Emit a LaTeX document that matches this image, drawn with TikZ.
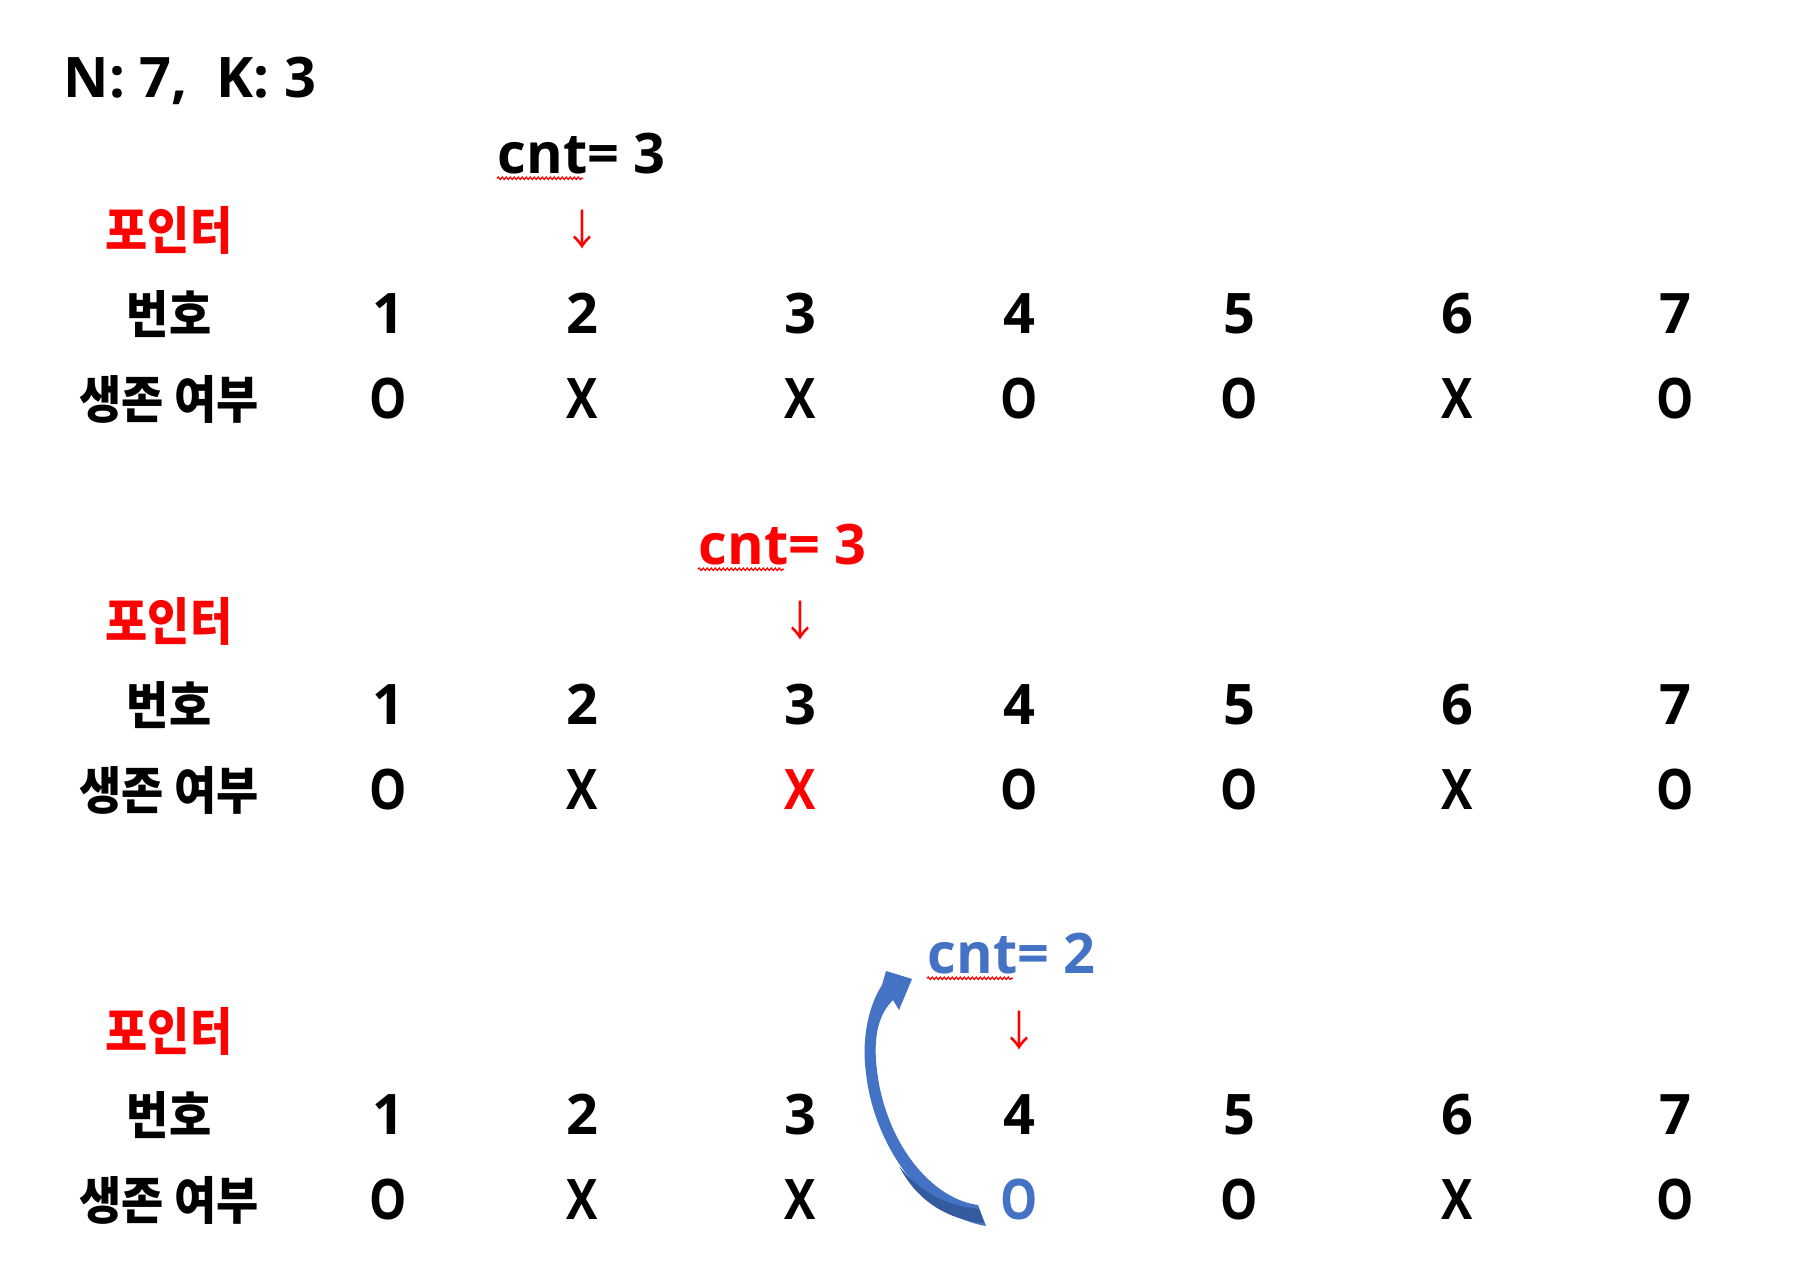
\documentclass[tikz,border=0pt]{standalone}
\usepackage{fontspec}
\setmainfont{Open Sans}
\newfontfamily\kor{Noto Sans CJK KR}[FakeStretch=0.9]
\newfontfamily\narrow{Open Sans}[FakeStretch=0.84]
\usepackage{tikz}
\usetikzlibrary{decorations.pathmorphing}
\definecolor{ptred}{RGB}{255,0,0}
\definecolor{cntblue}{RGB}{68,114,196}
\definecolor{arrdark}{RGB}{52,90,160}

\begin{document}
\begin{tikzpicture}[
  txt/.style={inner sep=0pt, anchor=base, font=\fontsize{15.9}{19}\selectfont\bfseries},
  oxcell/.style={txt, font=\narrow\fontsize{15.9}{19}\selectfont\bfseries},
  kor/.style={txt, font=\kor\fontsize{14.5}{17}\selectfont\bfseries},
  cnt/.style={txt, anchor=base west},
  ptr/.style={inner sep=0pt, anchor=base, text=ptred, font=\kor\fontsize{12}{14}\selectfont},
  squig/.style={ptred, line width=0.35pt, decorate, decoration={snake, amplitude=0.12mm, segment length=0.4mm}}]
  \useasboundingbox (0,0) rectangle (17.95,-12.81);
  \node[txt, anchor=base west] (nk) at (0.63,-0.97) {N: 7,~~K: 3};
  % first pass
  \node[cnt] (cnt1) at (4.97,-1.73) {cnt= 3};
  \draw[squig] ([yshift=-1.5pt]cnt1.base west) -- ++(0.86,0);
  \node[ptr] (p1) at (5.82,-2.45) {↓};
  \node[kor, text=ptred] (ptr1) at (1.69,-2.49) {포인터};
  \node[kor] (no1) at (1.69,-3.33) {번호};
  \node[kor] (alive1) at (1.69,-4.18) {생존 여부};
  \foreach \i/\xx/\s in {1/3.88/O, 2/5.82/X, 3/8.00/X, 4/10.19/O, 5/12.39/O, 6/14.57/X, 7/16.75/O} {
    \node[txt] (n1\i) at (\xx,-3.33) {\i};
    \node[oxcell] (s1\i) at (\xx,-4.18) {\s};
  }
  % second pass
  \node[cnt, text=ptred] (cnt2) at (6.98,-5.64) {cnt= 3};
  \draw[squig] ([yshift=-1.5pt]cnt2.base west) -- ++(0.86,0);
  \node[ptr] (p2) at (8.00,-6.36) {↓};
  \node[kor, text=ptred] (ptr2) at (1.69,-6.40) {포인터};
  \node[kor] (no2) at (1.69,-7.24) {번호};
  \node[kor] (alive2) at (1.69,-8.09) {생존 여부};
  \foreach \i/\xx/\s/\c in {1/3.88/O/black, 2/5.82/X/black, 3/8.00/X/ptred, 4/10.19/O/black, 5/12.39/O/black, 6/14.57/X/black, 7/16.75/O/black} {
    \node[txt] (n2\i) at (\xx,-7.24) {\i};
    \node[oxcell, text=\c] (s2\i) at (\xx,-8.09) {\s};
  }
  % third pass
  \node[cnt, text=cntblue] (cnt3) at (9.27,-9.73) {cnt= 2};
  \draw[squig] ([yshift=-1.5pt]cnt3.base west) -- ++(0.86,0);
  \node[ptr] (p3) at (10.19,-10.46) {↓};
  \node[kor, text=ptred] (ptr3) at (1.69,-10.50) {포인터};
  \node[kor] (no3) at (1.69,-11.34) {번호};
  \node[kor] (alive3) at (1.69,-12.19) {생존 여부};
  \foreach \i/\xx/\s/\c in {1/3.88/O/black, 2/5.82/X/black, 3/8.00/X/black, 4/10.19/O/cntblue, 5/12.39/O/black, 6/14.57/X/black, 7/16.75/O/black} {
    \node[txt] (n3\i) at (\xx,-11.34) {\i};
    \node[oxcell, text=\c] (s3\i) at (\xx,-12.19) {\s};
  }
  % curved arrow back to cnt
  \fill[cntblue] (9.78,-12.05) .. controls (9.27,-11.98) and (8.81,-11.35) .. (8.76,-10.60)
    .. controls (8.74,-10.30) and (8.81,-10.12) .. (8.93,-10.00)
    -- (8.99,-10.10) -- (9.12,-9.79) -- (8.86,-9.71) -- (8.82,-9.85)
    .. controls (8.66,-10.10) and (8.62,-10.45) .. (8.66,-10.73)
    .. controls (8.73,-11.40) and (9.20,-12.15) .. (9.86,-12.26) -- cycle;
  \fill[arrdark] (9.79,-12.09) .. controls (9.45,-12.06) and (9.18,-11.90) .. (8.99,-11.66)
    .. controls (9.18,-12.03) and (9.50,-12.20) .. (9.84,-12.23) -- cycle;
\end{tikzpicture}
\end{document}
